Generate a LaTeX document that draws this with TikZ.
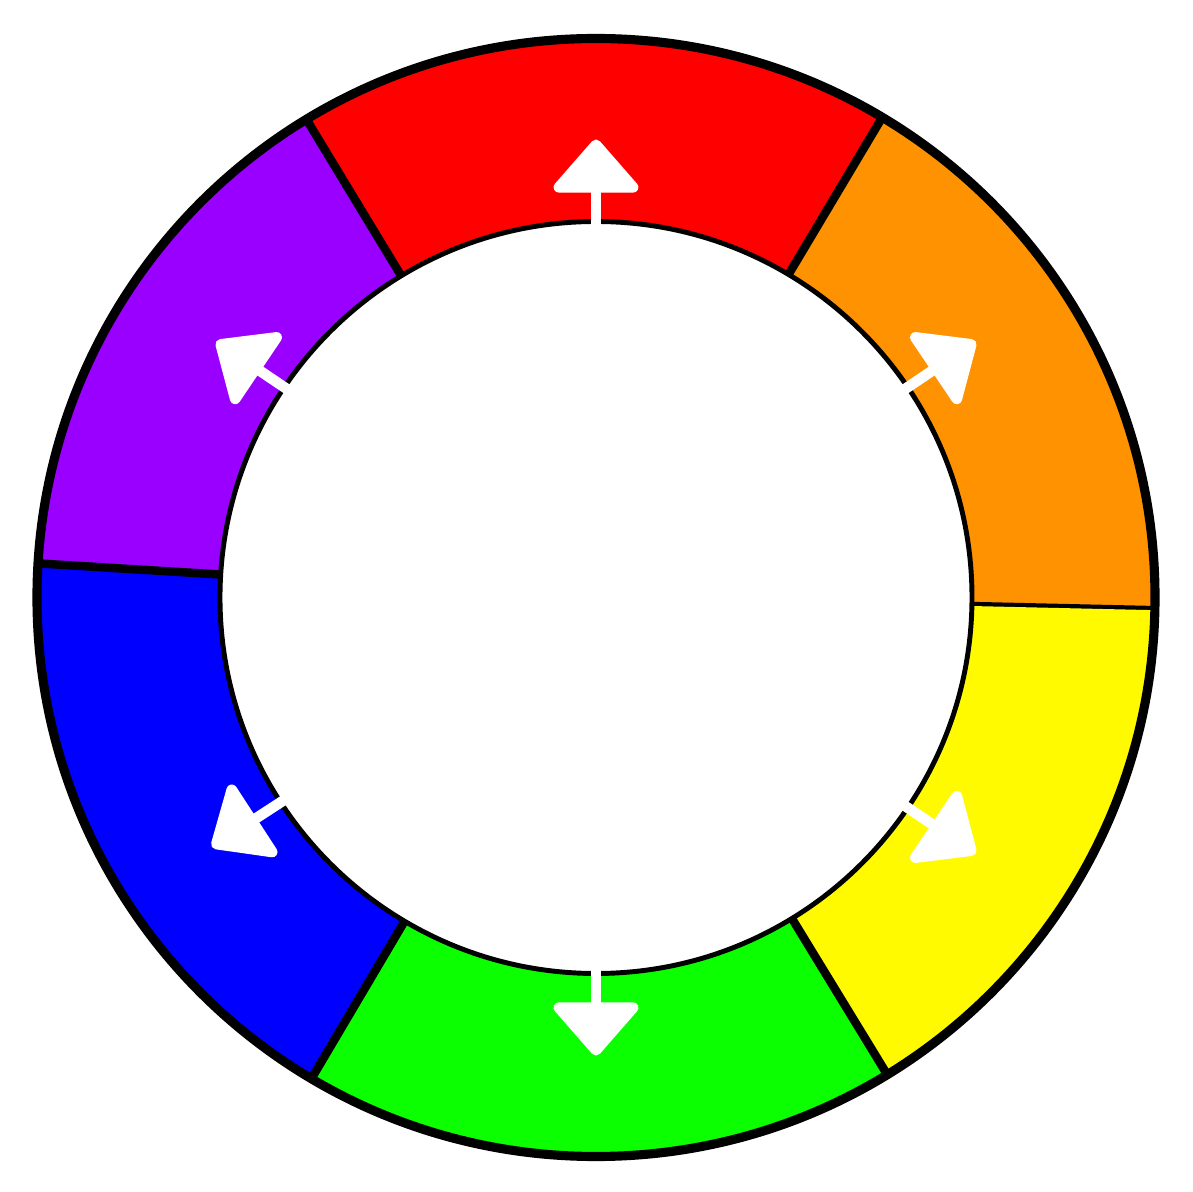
\documentclass[tikz,border=0pt]{standalone}
\usetikzlibrary{arrows.meta}
\definecolor{wOrange}{HTML}{FF9200}
\definecolor{wRed}{HTML}{FF0000}
\definecolor{wPurple}{HTML}{9A00FF}
\definecolor{wBlue}{HTML}{0000FF}
\definecolor{wGreen}{HTML}{0CFF00}
\definecolor{wYellow}{HTML}{FFFA00}
\begin{document}
\begin{tikzpicture}
        \useasboundingbox (-5.96,-5.945) rectangle (5.96,5.975);
        % sectors
        \foreach \a/\b/\c in {-1.3/59.2/wOrange,59.2/121.2/wRed,121.2/176.5/wPurple,176.5/239.4/wBlue,239.4/301.4/wGreen,301.4/358.7/wYellow}
        {
          \fill[\c] (\a:5.59) arc[start angle=\a,end angle=\b,radius=5.59] -- (\b:3.76) arc[start angle=\b,end angle=\a,radius=3.76] -- cycle;
          \draw[line width=2.4pt] (\a:3.76) -- (\a:5.59);
        }
        % circles
        \draw[line width=2.6pt] (0,0) circle(5.59);
        \draw[line width=1.4pt] (0,0) circle(3.76);
        % arrows
        \foreach \t in {90,34,146,213,326,270}
          \draw[white,line width=3pt,-{Triangle[length=0.56cm,width=0.95cm,round]}] (\t:3.72) -- (\t:4.58);
  \end{tikzpicture}
\end{document}
